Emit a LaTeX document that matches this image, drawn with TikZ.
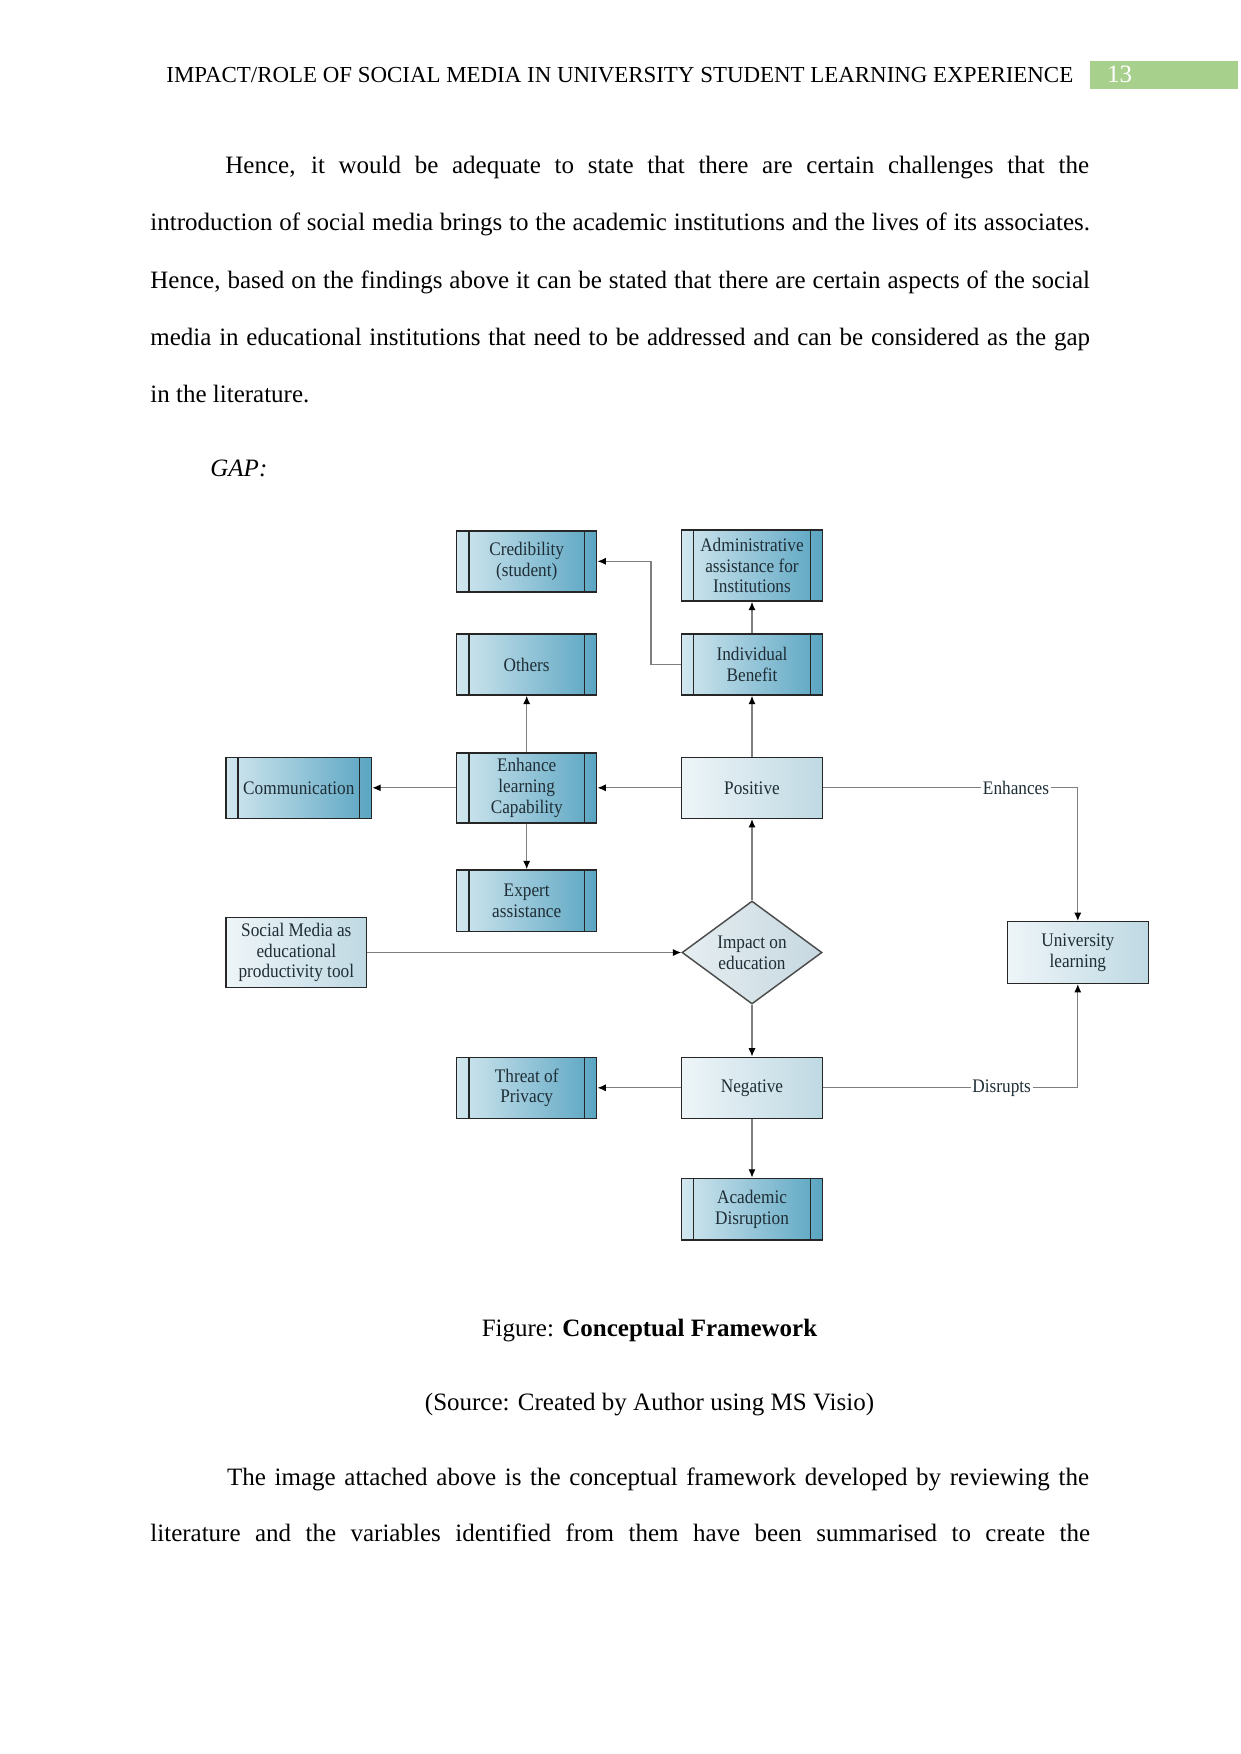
\documentclass[tikz,border=0pt]{standalone}
\usepackage{fontspec}
\setmainfont{Liberation Serif}
\newfontfamily\visiofont[FakeStretch=0.9]{Liberation Serif}
\usetikzlibrary{shapes.geometric,arrows.meta,calc}

\definecolor{hdrgreen}{HTML}{A8D08D}
\definecolor{boxdark}{HTML}{5AA5C2}
\definecolor{boxlight}{HTML}{D2E7EF}
\definecolor{plainlight}{HTML}{EEF5F8}
\definecolor{plaindark}{HTML}{BFD9E3}
\definecolor{diamlight}{HTML}{E6EEF1}
\definecolor{diamdark}{HTML}{C6D8E0}
\definecolor{linegray}{HTML}{7F7F7F}
\definecolor{boxtext}{HTML}{1F2E36}

\tikzset{
  bodytext/.style={anchor=base west, inner sep=0pt, font=\fontsize{12}{14}\selectfont},
  centertext/.style={anchor=base, inner sep=0pt, font=\fontsize{12}{14}\selectfont},
  vfont/.style={font=\visiofont\fontsize{9.2}{10}\selectfont, text=boxtext},
  procbox/.style={vfont, rectangle, draw=black!85, line width=0.7pt,
    minimum width=67.2pt, minimum height=29.3pt, inner sep=0pt, align=center,
    left color=boxlight, right color=boxdark,
    path picture={
      \draw[black!85, line width=0.7pt]
        ([xshift=5.8pt]path picture bounding box.north west) --
        ([xshift=5.8pt]path picture bounding box.south west);
      \draw[black!85, line width=0.7pt]
        ([xshift=-5.8pt]path picture bounding box.north east) --
        ([xshift=-5.8pt]path picture bounding box.south east);
    }},
  plainbox/.style={vfont, rectangle, draw=black!85, line width=0.7pt,
    minimum width=67.7pt, minimum height=29.3pt, inner sep=0pt, align=center,
    left color=plainlight, right color=plaindark},
  decision/.style={vfont, diamond, draw=black!70, line width=0.7pt,
    minimum width=67.2pt, minimum height=48.8pt, inner sep=0pt, align=center,
    left color=diamlight, right color=diamdark},
  conn/.style={draw=linegray, line width=0.6pt,
    -{Latex[length=4pt,width=3.4pt,color=black]}},
  plainline/.style={draw=linegray, line width=0.6pt},
  lbl/.style={vfont, fill=white, inner sep=0.6pt}
}

\begin{document}
\begin{tikzpicture}[x=0.48pt,y=-0.48pt]
\useasboundingbox[fill=white] (0,0) rectangle (1241,1754);

% header
\node[bodytext, font=\fontsize{11}{13}\selectfont] (hdr) at (166,82.3) {IMPACT/ROLE OF SOCIAL MEDIA IN UNIVERSITY STUDENT LEARNING EXPERIENCE};
\fill[hdrgreen] (1090,60.7) rectangle (1238,89);
\node[bodytext, text=white] (pgnum) at (1106.7,82.3) {13};

% first paragraph
\node[bodytext] (l1) at (225,173.3) {\makebox[414.5pt][s]{Hence, it would be adequate to state that there are certain challenges that the}};
\node[bodytext] (l2) at (150,230.7) {\makebox[451pt][s]{introduction of social media brings to the academic institutions and the lives of its associates.}};
\node[bodytext] (l3) at (150,288.1) {\makebox[451pt][s]{Hence, based on the findings above it can be stated that there are certain aspects of the social}};
\node[bodytext] (l4) at (150,345.5) {\makebox[451pt][s]{media in educational institutions that need to be addressed and can be considered as the gap}};
\node[bodytext] (l5) at (150,402.9) {in the literature.};
\node[bodytext] (gap) at (210,476.7) {\itshape GAP:};

% diagram nodes
\node[procbox] (cred) at (526.7,561.3) {Credibility\\(student)};
\node[procbox, minimum width=67.7pt, minimum height=34.1pt] (admin) at (752,565.5) {Administrative\\assistance for\\Institutions};
\node[procbox] (others) at (526.7,664.5) {Others};
\node[procbox, minimum width=67.7pt] (indiv) at (752,664.5) {Individual\\Benefit};
\node[procbox, minimum width=69.9pt] (comm) at (298.8,787.8) {Communication};
\node[procbox, minimum height=33.6pt] (enh) at (526.7,787.8) {Enhance\\learning\\Capability};
\node[plainbox] (pos) at (752,787.8) {Positive};
\node[procbox, minimum height=29.6pt] (expert) at (526.7,900.8) {Expert\\assistance};
\node[plainbox, minimum width=67.5pt, minimum height=33.6pt] (social) at (296.3,952.5) {Social Media as\\educational\\productivity tool};
\node[decision] (impact) at (752,952.5) {Impact on\\education};
\node[plainbox, minimum height=29.6pt] (univ) at (1077.8,952.5) {University\\learning};
\node[procbox] (threat) at (526.7,1087.8) {Threat of\\Privacy};
\node[plainbox] (neg) at (752,1087.8) {Negative};
\node[procbox, minimum width=67.7pt, minimum height=29.6pt] (acad) at (752,1209.2) {Academic\\Disruption};

% labels on connectors
\node[lbl] (lblE) at (1016,787.8) {Enhances};
\node[lbl] (lblD) at (1001.7,1087.8) {Disrupts};
\coordinate (bendA) at (651,664.5);
\coordinate (bendE) at (1077.8,787.8);
\coordinate (bendD) at (1077.8,1087.8);

% connectors
\draw[conn] (indiv.west) -- (bendA) |- (cred.east);
\draw[conn] (indiv.north) -- (admin.south);
\draw[conn] (enh.north) -- (others.south);
\draw[conn] (pos.north) -- (indiv.south);
\draw[conn] (pos.west) -- (enh.east);
\draw[conn] (enh.west) -- (comm.east);
\draw[conn] (enh.south) -- (expert.north);
\draw[conn] (impact.north) -- (pos.south);
\draw[conn] (social.east) -- (impact.west);
\draw[conn] (impact.south) -- (neg.north);
\draw[conn] (neg.west) -- (threat.east);
\draw[conn] (neg.south) -- (acad.north);
\draw[plainline] (pos.east) -- (lblE.west);
\draw[conn] (lblE.east) -- (bendE) -- (univ.north);
\draw[plainline] (neg.east) -- (lblD.west);
\draw[conn] (lblD.east) -- (bendD) -- (univ.south);

% caption
\node[centertext] (cap) at (649.5,1336) {Figure: \textbf{Conceptual Framework}};
\node[centertext] (src) at (649.5,1410) {(Source: Created by Author using MS Visio)};

% last paragraph
\node[bodytext] (m1) at (226.7,1485) {\makebox[413.7pt][s]{The image attached above is the conceptual framework developed by reviewing the}};
\node[bodytext] (m2) at (150,1541.7) {\makebox[451pt][s]{literature and the variables identified from them have been summarised to create the}};
\end{tikzpicture}
\end{document}
